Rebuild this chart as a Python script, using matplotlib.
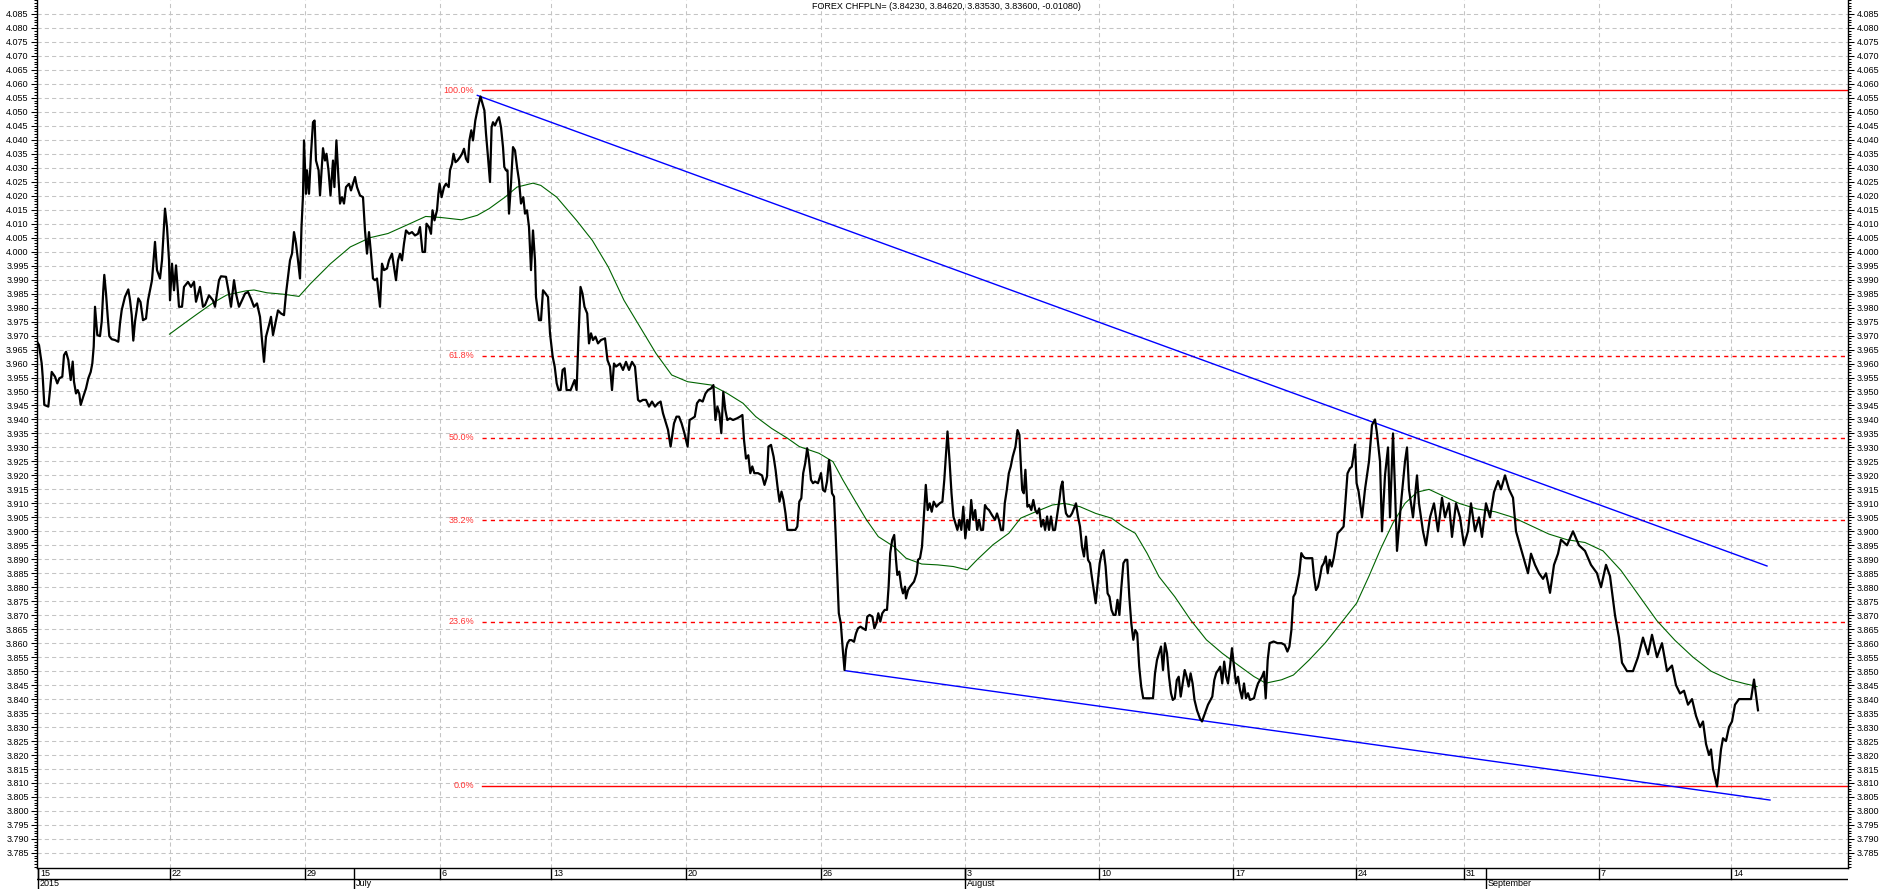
import numpy as np
import matplotlib
matplotlib.use("Agg")
import matplotlib.pyplot as plt
from matplotlib.ticker import FixedLocator, MultipleLocator, FormatStrFormatter

# hourly bar index (chart units) and CHFPLN close
price = [
    (37, 3.9678), (39, 3.9666), (41.7, 3.960), (42.7, 3.9553), (44.3, 3.9452), (48.3, 3.9446),
    (50, 3.9505), (51.7, 3.957), (55, 3.9553), (57.3, 3.9529), (59.3, 3.9547), (62.3, 3.9553),
    (64, 3.963), (66, 3.9642), (68.3, 3.9613), (70.7, 3.9541), (72.7, 3.9607), (74, 3.9535),
    (76, 3.9493), (77.7, 3.9505), (79.3, 3.9491), (80.7, 3.9452), (83.3, 3.9482), (86, 3.9511),
    (88.3, 3.9547), (90.7, 3.957), (92.3, 3.960), (93.7, 3.966), (95, 3.9803), (96.3, 3.9744),
    (97.3, 3.9702), (100, 3.9698), (101.7, 3.975), (103.3, 3.9863), (104.3, 3.9917), (106, 3.9851),
    (107.7, 3.9768), (109.3, 3.9698), (111.7, 3.9687), (115, 3.9684), (118.3, 3.9678), (120, 3.9744),
    (121.7, 3.9791), (125, 3.9839), (128.3, 3.9865), (130, 3.9827), (131.7, 3.9774), (133.3, 3.9682),
    (135, 3.975), (136.7, 3.9791), (138.3, 3.9833), (140.5, 3.982), (143, 3.9755), (146, 3.9761),
    (148, 3.9826), (152, 3.9898), (155, 4.0035), (157, 3.9934), (160, 3.9904), (162, 3.9969),
    (165, 4.0154), (167, 4.0088), (169, 3.997), (170, 3.9826), (172, 3.9957), (174, 3.9862),
    (176, 3.9951), (179, 3.9803), (182, 3.9803), (184, 3.9874), (188, 3.9892), (191, 3.9874),
    (194, 3.9892), (196, 3.9821), (200, 3.9874), (203, 3.9803), (205, 3.9809), (209, 3.9844),
    (213, 3.9826), (215, 3.9803), (219, 3.9898), (221, 3.9912), (226, 3.991), (229, 3.985),
    (231, 3.9803), (234, 3.9898), (236, 3.985), (239, 3.9803), (242, 3.9826), (245, 3.985),
    (248, 3.9856), (251, 3.9832), (254, 3.9803), (257, 3.9815), (260, 3.9767), (262, 3.9684),
    (264, 3.9606), (266, 3.9696), (269, 3.9737), (271, 3.9767), (273, 3.9702), (276, 3.9755),
    (278, 3.979), (281, 3.9779), (284, 3.9773), (286, 3.985), (288, 3.991), (290, 3.9969),
    (292, 3.9993), (294, 4.007), (296, 4.0029), (298, 3.9969), (300, 3.9904), (301.5, 4.0088),
    (303, 4.0201), (304, 4.0398), (306, 4.0207), (307, 4.0291), (309, 4.0207), (311, 4.035),
    (313, 4.0463), (314.6, 4.0469), (316, 4.0326), (318.6, 4.0291), (320, 4.0201), (322, 4.0314),
    (323, 4.037), (325, 4.0326), (326.5, 4.035), (328.5, 4.0291), (330.5, 4.0201), (333, 4.0326),
    (334.4, 4.0231), (336.4, 4.0398), (338.4, 4.0267), (340, 4.0172), (342, 4.0195), (344, 4.0172),
    (346, 4.0231), (349, 4.0243), (351, 4.0219), (353, 4.0243), (355, 4.0267), (357, 4.0231),
    (360, 4.0201), (363, 4.0195), (365, 4.0076), (367, 3.9993), (369, 4.007), (371, 3.9993),
    (373, 3.9904), (375, 3.9898), (377, 3.9904), (380, 3.9803), (382, 3.9957), (384, 3.9934),
    (387, 3.994), (389, 3.9969), (392, 3.9993), (394, 3.9945), (396, 3.9898), (398, 3.9969),
    (400, 3.9993), (402, 3.9969), (404, 4.0029), (406, 4.0076), (409, 4.0064), (412, 4.007),
    (415, 4.0058), (418, 4.0064), (420, 4.0088), (422.5, 3.9999), (425, 3.9999), (426.5, 4.010),
    (429, 4.0088), (431, 4.0064), (432.5, 4.0148), (434.5, 4.0112), (437, 4.0148), (438.4, 4.0207),
    (439.6, 4.0243), (441.6, 4.0195), (444, 4.0231), (446, 4.0243), (448.7, 4.0231), (450, 4.0291),
    (452, 4.0314), (453.5, 4.035), (455.5, 4.032), (457.5, 4.0326), (460, 4.0338), (462, 4.035),
    (464, 4.0368), (466, 4.0332), (468, 4.032), (469.4, 4.0398), (471.3, 4.0434), (473, 4.0398),
    (475.3, 4.0469), (478, 4.0517), (480.5, 4.0555), (482.5, 4.0529), (484.4, 4.0505), (486, 4.0422),
    (488, 4.0338), (490, 4.0249), (491.6, 4.0445), (493, 4.0463), (495, 4.0451), (497, 4.0469),
    (499, 4.0481), (501, 4.0445), (503, 4.0374), (504.3, 4.0303), (506, 4.0291), (507.5, 4.0291),
    (509, 4.0136), (511, 4.0243), (513, 4.0374), (515, 4.0362), (517, 4.0303), (519, 4.0255),
    (521, 4.0172), (523.3, 4.0195), (525, 4.0136), (527, 4.0148), (529, 4.0088), (531, 3.9934),
    (533, 4.0076), (535, 3.9969), (536, 3.9838), (539, 3.9755), (541, 3.9755), (543, 3.9862),
    (545.6, 3.985), (548, 3.9838), (550, 3.9708), (552.7, 3.9624), (554.7, 3.9589), (556.7, 3.9529),
    (558.6, 3.9505), (560.6, 3.9505), (562.6, 3.9577), (564.6, 3.9583), (566.6, 3.9505), (570.6, 3.9505),
    (574.6, 3.9541), (576.6, 3.9505), (578.5, 3.9696), (580.5, 3.9874), (582.5, 3.985), (584.5, 3.9803),
    (587.2, 3.9779), (589, 3.9672), (591, 3.9708), (593, 3.9684), (595.5, 3.9696), (598, 3.9672),
    (601, 3.9684), (605, 3.969), (607.5, 3.9612), (610, 3.9589), (612, 3.9505), (614, 3.960),
    (616, 3.9589), (620, 3.960), (623, 3.9577), (626, 3.9606), (629, 3.9577), (632, 3.9606),
    (635, 3.9589), (638, 3.947), (640, 3.9464), (643, 3.947), (646, 3.947), (649, 3.9446),
    (652, 3.9464), (655, 3.9446), (658, 3.9458), (660.6, 3.9464), (663, 3.9422), (666, 3.9386),
    (668, 3.9363), (670.6, 3.9303), (674, 3.9386), (676.5, 3.941), (679, 3.941), (681.6, 3.9386),
    (684.4, 3.9351), (687.6, 3.9303), (689.6, 3.9398), (692.4, 3.9404), (694.8, 3.941), (697, 3.9458),
    (699.5, 3.947), (702.7, 3.9464), (705.5, 3.9493), (708, 3.9505), (711, 3.9511), (713.4, 3.9523),
    (715.4, 3.9398), (717.4, 3.9446), (719.4, 3.9422), (721.3, 3.9351), (723.3, 3.9499), (725.3, 3.9434),
    (727.3, 3.9398), (730, 3.9404), (733, 3.9398), (737, 3.9404), (740, 3.941), (742.4, 3.9416),
    (744, 3.9327), (746, 3.926), (748.3, 3.9272), (750.3, 3.9208), (752.3, 3.9232), (754.3, 3.9208),
    (758, 3.9208), (762, 3.920), (764.5, 3.9166), (767, 3.9196), (768.5, 3.9303), (771, 3.9309),
    (773.6, 3.9267), (775.6, 3.9219), (777.5, 3.916), (779.5, 3.9106), (781.5, 3.9142), (783.5, 3.9112),
    (785.5, 3.9064), (787.4, 3.9005), (791.4, 3.9005), (795.3, 3.9005), (797.3, 3.9017), (799.3, 3.9106),
    (801.3, 3.9118), (803.2, 3.9208), (805.2, 3.9243), (807.2, 3.9297), (809, 3.9255), (811, 3.9184),
    (813, 3.9172), (815, 3.9178), (818, 3.9172), (821, 3.9208), (823, 3.9148), (825, 3.9142),
    (827, 3.9178), (829, 3.9255), (830, 3.9231), (832, 3.9136), (834, 3.9124), (835.6, 3.8993),
    (837.2, 3.885), (838.8, 3.8707), (840.8, 3.8671), (842.8, 3.8576), (844.5, 3.8504), (846, 3.8576),
    (847.5, 3.860), (849.5, 3.8611), (851.5, 3.8611), (854, 3.8605), (856, 3.8635), (858, 3.8653),
    (860.5, 3.8659), (863, 3.8653), (865.7, 3.8647), (867.3, 3.8695), (869.6, 3.8701), (872.4, 3.8695),
    (874.4, 3.8653), (876.4, 3.8671), (878.3, 3.8707), (880.3, 3.8677), (882.3, 3.8707), (884.7, 3.8719),
    (887, 3.8719), (888.6, 3.8802), (890.2, 3.8922), (892.2, 3.8969), (894.2, 3.8987), (896, 3.8898),
    (897.3, 3.8844), (899.3, 3.8856), (901.3, 3.8802), (903, 3.8778), (905, 3.8802), (906, 3.876),
    (908, 3.879), (910, 3.8802), (914, 3.882), (916.7, 3.885), (918, 3.8898), (920, 3.8904),
    (922, 3.8945), (924, 3.9064), (925.8, 3.9166), (927.7, 3.9076), (929.7, 3.910), (931.7, 3.907),
    (933.7, 3.9106), (936.4, 3.9088), (939.6, 3.910), (942.4, 3.9106), (944.3, 3.9184), (946.3, 3.9291),
    (947.5, 3.9357), (949.5, 3.9255), (951.5, 3.9136), (953.4, 3.9053), (955.4, 3.9029), (957.4, 3.9005),
    (959.4, 3.9041), (961.3, 3.9005), (963.3, 3.9088), (965.3, 3.8975), (967.3, 3.9041), (969.2, 3.9005),
    (971.2, 3.9112), (973.2, 3.9041), (975.2, 3.9076), (977.2, 3.9005), (979.1, 3.9041), (981, 3.9005),
    (983, 3.9005), (985, 3.9094), (987, 3.9082), (989, 3.9076), (991.8, 3.9059), (995, 3.9041),
    (997, 3.9064), (999, 3.9041), (1001, 3.9005), (1003, 3.9005), (1004.8, 3.9101), (1006.8, 3.9148),
    (1008.8, 3.9207), (1010.7, 3.9231), (1012.7, 3.9267), (1015.5, 3.9303), (1017.5, 3.9362), (1019.4, 3.9345),
    (1020.6, 3.9255), (1022.2, 3.9148), (1023.8, 3.9136), (1025.4, 3.922), (1027.4, 3.9088), (1029.3, 3.9094),
    (1031.3, 3.9076), (1033.3, 3.9112), (1035.3, 3.9076), (1037.2, 3.9064), (1039.2, 3.9082), (1041.2, 3.9017),
    (1043.2, 3.9041), (1045.1, 3.9005), (1047.1, 3.9053), (1049, 3.9005), (1051, 3.9053), (1053, 3.9005),
    (1055, 3.9005), (1057, 3.9053), (1059.4, 3.9112), (1061, 3.916), (1062.5, 3.9178), (1064, 3.9112),
    (1066, 3.9064), (1068, 3.9053), (1070, 3.9053), (1072, 3.9064), (1074, 3.9082), (1076, 3.910),
    (1078, 3.9053), (1080, 3.9017), (1082, 3.8945), (1084, 3.891), (1086, 3.8981), (1088, 3.8898),
    (1090, 3.8886), (1091.8, 3.8838), (1093.8, 3.879), (1095.7, 3.8743), (1097.7, 3.8814), (1099.7, 3.8886),
    (1101.7, 3.8921), (1103.6, 3.8933), (1105.6, 3.8874), (1107.6, 3.8778), (1109.5, 3.8766), (1111.5, 3.8719),
    (1113.5, 3.8701), (1115.5, 3.8701), (1117.5, 3.8755), (1119.4, 3.8701), (1121.4, 3.8802), (1123.4, 3.8886),
    (1125.4, 3.8898), (1127.3, 3.8898), (1129.3, 3.8766), (1131.3, 3.8671), (1133.3, 3.8612), (1135.3, 3.8647),
    (1137.2, 3.8635), (1139.2, 3.8516), (1141.2, 3.8445), (1143.2, 3.8403), (1147, 3.8403), (1151, 3.8403),
    (1153, 3.8403), (1155, 3.8492), (1157, 3.854), (1159, 3.8564), (1161, 3.8588), (1163, 3.8504),
    (1165, 3.860), (1167, 3.8564), (1169, 3.848), (1171, 3.8421), (1172.8, 3.8397), (1174.8, 3.8403),
    (1176.8, 3.8468), (1178.7, 3.848), (1180.7, 3.8409), (1182.7, 3.8456), (1184.7, 3.8504), (1186.6, 3.848),
    (1188.6, 3.8445), (1190.6, 3.8492), (1192.6, 3.8456), (1194.5, 3.8397), (1197, 3.836), (1200, 3.833),
    (1202, 3.832), (1205, 3.835), (1208, 3.838), (1212.3, 3.8409), (1214.3, 3.8468), (1216.3, 3.8494),
    (1218.3, 3.8504), (1220.2, 3.8516), (1222.2, 3.8456), (1224.2, 3.8534), (1226.2, 3.848), (1228, 3.8456),
    (1230, 3.8516), (1232, 3.8582), (1234, 3.8516), (1236, 3.8456), (1238, 3.848), (1240, 3.8433),
    (1242, 3.8403), (1244, 3.8456), (1246, 3.8403), (1248, 3.8421), (1250, 3.8397), (1254, 3.8403),
    (1256, 3.8433), (1258, 3.8456), (1260, 3.8468), (1262, 3.848), (1264, 3.8498), (1265.7, 3.8403),
    (1267.7, 3.854), (1269.6, 3.860), (1273.6, 3.8606), (1277.5, 3.860), (1281.5, 3.860), (1284.7, 3.8594),
    (1287.4, 3.857), (1289.4, 3.8588), (1291.4, 3.8647), (1293.4, 3.8766), (1295.3, 3.8778), (1297.3, 3.8814),
    (1299.3, 3.885), (1301.3, 3.8922), (1303.2, 3.891), (1305.2, 3.8904), (1309.2, 3.8904), (1312.3, 3.8904),
    (1314, 3.8838), (1316, 3.879), (1318, 3.8802), (1320, 3.8838), (1321.8, 3.8874), (1323.8, 3.8886),
    (1325.8, 3.891), (1327.7, 3.885), (1329.7, 3.8898), (1331.7, 3.8874), (1333.7, 3.8904), (1335.6, 3.8945),
    (1337.6, 3.8993), (1340.8, 3.9005), (1343.6, 3.9017), (1345.5, 3.9112), (1347.5, 3.9207), (1349.9, 3.9225),
    (1351.8, 3.9231), (1353.4, 3.9267), (1355, 3.931), (1356.6, 3.9172), (1358.6, 3.9142),
    (1362, 3.905), (1365, 3.915), (1369, 3.925), (1372, 3.938), (1375, 3.940), (1377, 3.935),
    (1380, 3.925), (1382, 3.900), (1385, 3.920), (1388, 3.930), (1390, 3.905), (1393, 3.935),
    (1395, 3.915), (1397, 3.893), (1401, 3.910), (1405, 3.925), (1407, 3.930), (1409, 3.915),
    (1413, 3.905), (1417, 3.920), (1419, 3.910), (1423, 3.900), (1426, 3.895), (1430, 3.905),
    (1434, 3.910), (1438, 3.900), (1442, 3.912), (1445, 3.905), (1449, 3.910), (1452, 3.898),
    (1456, 3.910), (1460, 3.905), (1464, 3.895), (1468, 3.900), (1471, 3.910), (1475, 3.900),
    (1479, 3.905), (1482, 3.898), (1486, 3.910), (1490, 3.905), (1494, 3.914), (1498, 3.918),
    (1501, 3.915), (1505, 3.920), (1509, 3.915), (1513, 3.912), (1516, 3.900), (1520, 3.895),
    (1524, 3.890), (1528, 3.885), (1531, 3.892), (1535, 3.888), (1539, 3.885), (1543, 3.883),
    (1546, 3.885), (1550, 3.878), (1554, 3.888), (1558, 3.892), (1561, 3.897), (1567, 3.895),
    (1573, 3.900), (1579, 3.895), (1585, 3.893), (1591, 3.888), (1597, 3.885), (1601, 3.880),
    (1606, 3.888), (1610, 3.884), (1615, 3.870), (1619, 3.862), (1622, 3.853), (1627, 3.850),
    (1633, 3.850), (1638, 3.855), (1643, 3.862), (1648, 3.856), (1652, 3.863), (1657, 3.855),
    (1662, 3.860), (1667, 3.850), (1672, 3.852), (1676, 3.845), (1680, 3.842), (1684, 3.843),
    (1688, 3.838), (1692, 3.840), (1696, 3.834), (1700, 3.830), (1703, 3.832), (1706, 3.824),
    (1709, 3.820), (1711, 3.822), (1713, 3.815), (1715, 3.812), (1717, 3.8088), (1719, 3.815),
    (1721, 3.822), (1723, 3.826), (1726, 3.825), (1729, 3.830), (1732, 3.832), (1735, 3.838),
    (1739, 3.840), (1746, 3.840), (1751, 3.840), (1754, 3.847), (1758, 3.836),
]

# moving average (green)
ma = [
    (169.5, 3.9705), (186.7, 3.975), (196, 3.9774), (213, 3.9817), (226.7, 3.9845), (246, 3.986),
    (254, 3.9863), (267, 3.9853), (283, 3.9848), (299, 3.984), (310.6, 3.9886), (330.5, 3.9957),
    (350.3, 4.0017), (370, 4.005), (388, 4.0065), (409.8, 4.010), (425.7, 4.0126), (441.6, 4.0122),
    (461.4, 4.0114), (477.3, 4.013), (489.2, 4.0154), (505, 4.0195), (517, 4.0231), (532.9, 4.0245),
    (540.8, 4.0237), (556.7, 4.0195), (576.5, 4.0112), (592.4, 4.004), (608.3, 3.9945), (624, 3.9826),
    (640, 3.9731), (656, 3.9636), (671.7, 3.9559), (687.6, 3.9535), (711.4, 3.9523), (727.3, 3.9493),
    (743, 3.9458), (755.8, 3.941), (771.6, 3.9368), (787.4, 3.9333), (799.3, 3.9303), (819, 3.9279),
    (833, 3.9249), (842.8, 3.9184), (854.6, 3.9112), (866.5, 3.9041), (878.3, 3.8981), (894, 3.8945),
    (906, 3.8904), (921.8, 3.8883), (937.6, 3.888), (953.4, 3.8874), (967.3, 3.8862), (977, 3.8898),
    (993, 3.8952), (1008.8, 3.8993), (1020.6, 3.9047), (1036.4, 3.9071), (1052.3, 3.9094), (1064, 3.910),
    (1080, 3.9088), (1095.7, 3.9064), (1111.5, 3.9047), (1123.4, 3.9017), (1135.3, 3.8993), (1147, 3.8922),
    (1159, 3.8838), (1174.8, 3.8766), (1190.6, 3.8683), (1206.4, 3.8612), (1222.2, 3.8564), (1238, 3.8522),
    (1253.8, 3.8481), (1265.7, 3.8457), (1281.5, 3.8469), (1293.4, 3.8486), (1309.2, 3.854), (1325, 3.860),
    (1340.8, 3.8671), (1356.6, 3.8743), (1369, 3.884), (1381, 3.894), (1393, 3.903), (1405, 3.910),
    (1417, 3.914), (1429, 3.915), (1441, 3.913), (1459, 3.910), (1477, 3.908), (1495, 3.907),
    (1513, 3.905), (1531, 3.902), (1549, 3.899), (1567, 3.897), (1585, 3.896), (1603, 3.893),
    (1621, 3.886), (1639, 3.877), (1657, 3.868), (1675, 3.861), (1693, 3.855), (1711, 3.850),
    (1729, 3.847), (1745, 3.8455), (1757, 3.8445),
]

# trend channel (blue)
upper_trend = [(477.3, 4.0559), (1767, 3.8876)]
lower_trend = [(844.7, 3.8502), (1770, 3.8039)]

# fibonacci retracement
fib_low, fib_high = 3.8090, 4.0578
fib_levels = [0.0, 0.236, 0.382, 0.5, 0.618, 1.0]
fib_start = 482

y_ticks = [round(3.785 + 0.005 * i, 3) for i in range(61)]
day_pos = [38, 170, 305, 440, 551, 686, 821, 965, 1099, 1233, 1356, 1464, 1599, 1731]
day_lbl = ["15", "22", "29", "6", "13", "20", "26", "3", "10", "17", "24", "31", "7", "14"]
month_pos = [38, 354, 965, 1486]
month_lbl = ["2015", "July", "August", "September"]

title = "FOREX CHFPLN= (3.84230, 3.84620, 3.83530, 3.83600, -0.01080)"

W, H = 1883, 889
fs = 6.5
plt.rcParams['font.family'] = ['Liberation Sans', 'DejaVu Sans']

fig = plt.figure(figsize=(W / 100, H / 100), dpi=100)
ax = fig.add_axes([37 / W, 21 / H, 1811 / W, 868 / H])
ax.set_xlim(37, 1848)
ax.set_ylim(3.7796, 4.0900)

grid_kw = dict(color='#c4c4c4', lw=0.75, dashes=(4, 3))
for v in y_ticks:
    ax.axhline(v, zorder=0, **grid_kw)
for p in day_pos[1:]:
    ax.axvline(p, zorder=0, **grid_kw)

# fibonacci lines
for f in fib_levels:
    lv = fib_low + f * (fib_high - fib_low)
    if f in (0.0, 1.0):
        ax.plot([fib_start, 1848], [lv, lv], color='#ff0000', lw=1.0, zorder=2)
    else:
        ax.plot([fib_start, 1848], [lv, lv], color='#ff0000', lw=1.0, dashes=(3, 3), zorder=2)
    ax.text(fib_start - 8, lv, "%.1f%%" % (f * 100), color='#ff3333', fontsize=fs,
            ha='right', va='center')

mx, my = zip(*ma)
ax.plot(mx, my, color='#006400', lw=0.8, zorder=3)

for seg in (upper_trend, lower_trend):
    sx, sy = zip(*seg)
    ax.plot(sx, sy, color='#0000ff', lw=1.0, zorder=3)

px, py = zip(*price)
ax.plot(px, py, color='black', lw=1.6, zorder=4)

ax.yaxis.set_major_locator(FixedLocator(y_ticks))
ax.yaxis.set_minor_locator(MultipleLocator(0.001))
ax.yaxis.set_major_formatter(FormatStrFormatter('%.3f'))
ax.tick_params(axis='y', which='both', left=True, right=True, labelleft=True, labelright=True,
               labelsize=fs, direction='out', width=0.75)
ax.tick_params(axis='y', which='major', length=4.5, pad=1.5)
ax.tick_params(axis='y', which='minor', length=2.2)
ax.set_xticks([])
ax.spines['top'].set_visible(False)
for s in ('left', 'right', 'bottom'):
    ax.spines[s].set_linewidth(1.0)

ax.text(812, 4.0875, title, fontsize=fs, ha='left', va='center', color='black')

# date band
band = fig.add_axes([37 / W, 0, 1811 / W, 21 / H])
band.set_xlim(37, 1848)
band.set_ylim(0, 1)
band.axis('off')
band.axhline(0.5, color='black', lw=1.0)
for p, t in zip(day_pos, day_lbl):
    band.plot([p, p], [0.5, 1], color='black', lw=1.0)
    band.text(p + 2, 0.76, t, fontsize=fs, ha='left', va='center')
for p, t in zip(month_pos, month_lbl):
    band.plot([p, p], [0, 1], color='black', lw=1.0)
    band.text(p + 2, 0.24, t, fontsize=fs, ha='left', va='center')

fig.savefig('out.png', dpi=100)
